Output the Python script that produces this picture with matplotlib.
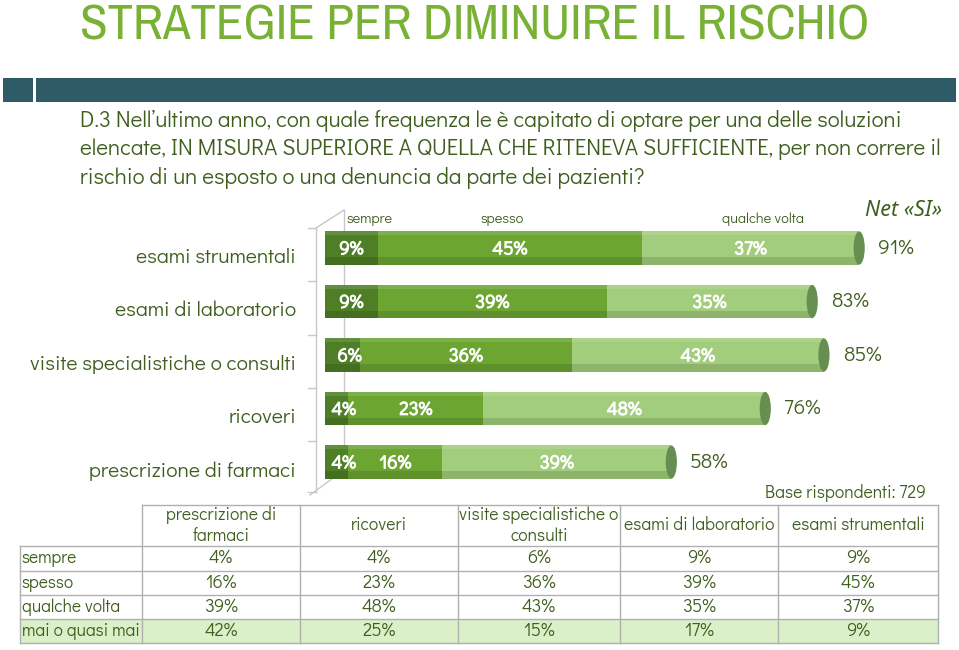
import matplotlib
matplotlib.use("Agg")
import matplotlib.pyplot as plt
import matplotlib.patheffects as pe
from matplotlib.patches import Ellipse, Rectangle

# ── data ─────────────────────────────────────────────────────────────────────
categories = ["esami strumentali", "esami di laboratorio",
              "visite specialistiche o consulti", "ricoveri",
              "prescrizione di farmaci"]
sempre = [9, 9, 6, 4, 4]
spesso = [45, 39, 36, 23, 16]
qualche = [37, 35, 43, 48, 39]
mai = [9, 17, 15, 25, 42]
net_si = [91, 83, 85, 76, 58]
series_names = ["sempre", "spesso", "qualche volta"]
table_rows = ["sempre", "spesso", "qualche volta", "mai o quasi mai"]
table_cols = ["prescrizione di\nfarmaci", "ricoveri", "visite specialistiche o\nconsulti",
              "esami di laboratorio", "esami strumentali"]

# ── style ────────────────────────────────────────────────────────────────────
C_TITLE = "#78B134"
C_BAND = "#2E5B66"
C_TEXT = "#3F5E1E"
C_SEMPRE = "#4E7F26"
C_SPESSO = "#6CA532"
C_QUALCHE = "#A2CD7C"
C_CAP = "#668E50"
C_GRID = "#C8C8C8"
FONT = ["Didact Gothic", "Questrial", "Noto Sans", "DejaVu Sans"]
TITLE_FONT = ["Archivo Narrow", "Roboto Condensed", "Liberation Sans"]
plt.rcParams["font.family"] = FONT

W, H = 959, 650
fig = plt.figure(figsize=(W / 100, H / 100), dpi=100)
fig.patch.set_facecolor("white")

# pixel-space layer for decoration
bg = fig.add_axes([0, 0, 1, 1])
bg.set_xlim(0, W)
bg.set_ylim(H, 0)
bg.axis("off")

bg.text(80, 40, "STRATEGIE PER DIMINUIRE IL RISCHIO", fontsize=36.4, color=C_TITLE,
        va="baseline", ha="left", family=TITLE_FONT)
bg.add_patch(Rectangle((3, 78), 30, 24, facecolor=C_BAND, edgecolor="none"))
bg.add_patch(Rectangle((36, 78), 920, 24, facecolor=C_BAND, edgecolor="none"))

question = ["D.3 Nell\u2019ultimo anno, con quale frequenza le \u00e8 capitato di optare per una delle soluzioni",
            "elencate, IN MISURA SUPERIORE A QUELLA CHE RITENEVA SUFFICIENTE, per non correre il",
            "rischio di un esposto o una denuncia da parte dei pazienti?"]
for i, line in enumerate(question):
    bg.text(80, 121 + i * 28.5, line, fontsize=16.2, color=C_TEXT, va="center", ha="left")

# pseudo-3D axis wall
bg.plot([316, 316], [228, 492], color=C_GRID, lw=1)
bg.plot([344, 344], [210, 470], color=C_GRID, lw=1)
bg.plot([316, 344], [228, 210], color=C_GRID, lw=1)
bg.plot([310, 344], [495, 470], color=C_GRID, lw=1)
for yy in [228, 281, 335, 388, 441, 492]:
    bg.plot([308, 316], [yy, yy], color=C_GRID, lw=1)

for name, xx in zip(series_names, [370, 502, 763]):
    bg.text(xx, 219, name, fontsize=10.4, color=C_TEXT, ha="center", va="center")
bg.text(904, 211, "Net \u00abSI\u00bb", fontsize=15.5, color=C_TEXT, ha="center",
        va="center", style="italic", family=["Noto Sans", "DejaVu Sans"])
bg.text(926, 493, "Base rispondenti: 729", fontsize=12.6, color=C_TEXT, ha="right", va="center")

# ── bars ─────────────────────────────────────────────────────────────────────
x0_px, px_per = 325, 5.87
top_px, row_px = 221.25, 53.5
ax = fig.add_axes([x0_px / W, 1 - (top_px + 5 * row_px) / H, 100 * px_per / W, 5 * row_px / H])
ax.set_xlim(0, 100)
ax.set_ylim(4.5, -0.5)
ax.axis("off")
ax.patch.set_alpha(0)

ypos = list(range(len(categories)))
bh = 0.62
cap_w = 1.9
ax.barh(ypos, sempre, height=bh, color=C_SEMPRE, zorder=3)
ax.barh(ypos, spesso, left=sempre, height=bh, color=C_SPESSO, zorder=3)
left3 = [a + b for a, b in zip(sempre, spesso)]
ax.barh(ypos, qualche, left=left3, height=bh, color=C_QUALCHE, zorder=3)
ends = [a + b for a, b in zip(left3, qualche)]
for y, e in zip(ypos, ends):
    ax.add_patch(Ellipse((0, y), cap_w, bh, facecolor=C_SEMPRE, edgecolor="none", zorder=2))
    ax.add_patch(Ellipse((e, y), cap_w, bh, facecolor=C_CAP, edgecolor="none", zorder=4))
    # shading for a cylinder look
    ax.add_patch(Rectangle((0, y + bh * 0.28), e, bh * 0.22, facecolor="black",
                           alpha=0.12, edgecolor="none", zorder=3.5))
    ax.add_patch(Rectangle((0, y - bh * 0.5), e, bh * 0.12, facecolor="white",
                           alpha=0.12, edgecolor="none", zorder=3.5))

bold = [pe.withStroke(linewidth=0.7, foreground="white")]
for y in ypos:
    segs = [(0, sempre[y]), (sempre[y], spesso[y]), (left3[y], qualche[y])]
    for left, val in segs:
        ax.text(left + val / 2 + (1.2 if val < 7 else 0), y + 0.03, f"{val}%",
                color="white", fontsize=13.5, ha="center", va="center", zorder=5,
                path_effects=bold)
    ax.text(ends[y] + 3.2, y, f"{net_si[y]}%", color=C_TEXT, fontsize=15,
            ha="left", va="center")

for y, lab in zip(ypos, categories):
    bg.text(296, top_px + (y + 0.67) * row_px, lab, fontsize=15.2, color=C_TEXT,
            ha="right", va="center")

# ── table ────────────────────────────────────────────────────────────────────
col_x = [20, 142, 300, 458, 620, 778, 938]
row_y = [505, 546, 570.5, 595, 619, 643]
bg.add_patch(Rectangle((col_x[0], row_y[4]), col_x[-1] - col_x[0], row_y[5] - row_y[4],
                       facecolor="#DAF0C9", edgecolor="none"))
lc = "#B0B0B0"
bg.plot([col_x[1], col_x[-1]], [row_y[0], row_y[0]], color=lc, lw=1)
for yy in row_y[1:]:
    bg.plot([col_x[0], col_x[-1]], [yy, yy], color=lc, lw=1)
bg.plot([col_x[0], col_x[0]], [row_y[1], row_y[-1]], color=lc, lw=1)
for xx in col_x[1:]:
    bg.plot([xx, xx], [row_y[0], row_y[-1]], color=lc, lw=1)

table_vals = [sempre[::-1], spesso[::-1], qualche[::-1], mai[::-1]]
for j, head in enumerate(table_cols):
    cx = (col_x[j + 1] + col_x[j + 2]) / 2
    bg.text(cx, (row_y[0] + row_y[1]) / 2, head, fontsize=12.6, color=C_TEXT,
            ha="center", va="center", linespacing=1.25)
for i, rname in enumerate(table_rows):
    cy = (row_y[i + 1] + row_y[i + 2]) / 2
    bg.text(col_x[0] + 2, cy, rname, fontsize=12.5, color=C_TEXT, ha="left", va="center")
    for j, v in enumerate(table_vals[i]):
        cx = (col_x[j + 1] + col_x[j + 2]) / 2
        bg.text(cx, cy, f"{v}%", fontsize=13.3, color=C_TEXT, ha="center", va="center")

fig.savefig("out.png", dpi=100, facecolor="white")
